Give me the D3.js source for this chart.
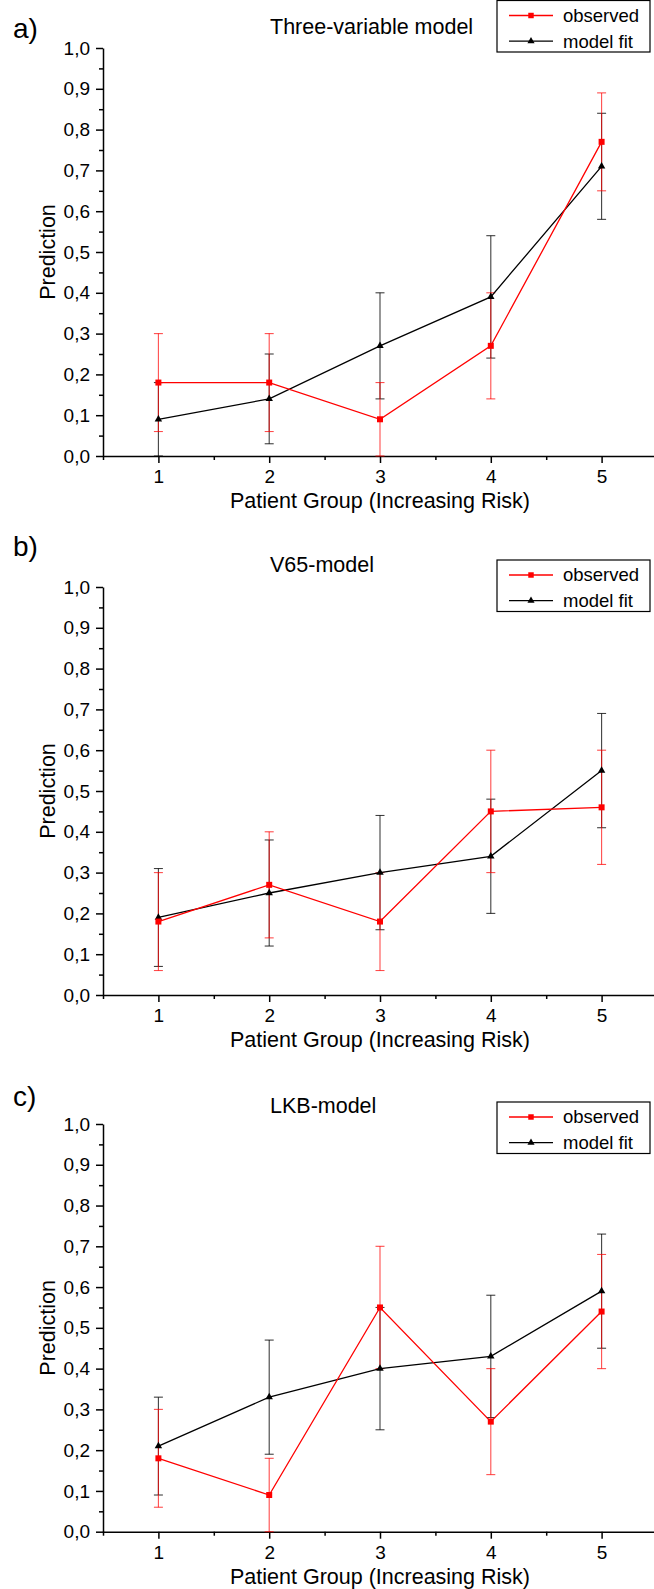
<!DOCTYPE html>
<html>
<head>
<meta charset="utf-8">
<script src="https://cdn.jsdelivr.net/npm/d3@7"></script>
<style>
body { margin: 0; background: #fff; }
svg { display: block; font-family: 'Liberation Sans', Arial, sans-serif; }
</style>
</head>
<body>
<svg id="chart"></svg>
<script>
// DATA
var groups = [1, 2, 3, 4, 5];
var yTicks = [0, 0.1, 0.2, 0.3, 0.4, 0.5, 0.6, 0.7, 0.8, 0.9, 1.0];
var yMinor = [0.05, 0.15, 0.25, 0.35, 0.45, 0.55, 0.65, 0.75, 0.85, 0.95];
var xMinor = [0.5, 1.5, 2.5, 3.5, 4.5, 5.5];
var seriesNames = ['observed', 'model fit'];
var panelLetters = ['a)', 'b)', 'c)'];
var panelTitles = ['Three-variable model', 'V65-model', 'LKB-model'];
var xTitle = 'Patient Group (Increasing Risk)';
var yTitle = 'Prediction';

// a) three-variable model
var obsA = [0.18, 0.18, 0.09, 0.27, 0.77];
var obsLowA = [0.06, 0.06, 0.00, 0.14, 0.65];
var obsHighA = [0.30, 0.30, 0.18, 0.40, 0.89];
var fitA = [0.09, 0.14, 0.27, 0.39, 0.71];
var fitLowA = [0.00, 0.03, 0.14, 0.24, 0.58];
var fitHighA = [0.18, 0.25, 0.40, 0.54, 0.84];

// b) V65 model
var obsB = [0.18, 0.27, 0.18, 0.45, 0.46];
var obsLowB = [0.06, 0.14, 0.06, 0.30, 0.32];
var obsHighB = [0.30, 0.40, 0.30, 0.60, 0.60];
var fitB = [0.19, 0.25, 0.30, 0.34, 0.55];
var fitLowB = [0.07, 0.12, 0.16, 0.20, 0.41];
var fitHighB = [0.31, 0.38, 0.44, 0.48, 0.69];

// c) LKB model
var obsC = [0.18, 0.09, 0.55, 0.27, 0.54];
var obsLowC = [0.06, 0.00, 0.40, 0.14, 0.40];
var obsHighC = [0.30, 0.18, 0.70, 0.40, 0.68];
var fitC = [0.21, 0.33, 0.40, 0.43, 0.59];
var fitLowC = [0.09, 0.19, 0.25, 0.28, 0.45];
var fitHighC = [0.33, 0.47, 0.55, 0.58, 0.73];

var panelData = [
    {obs: obsA, obsLow: obsLowA, obsHigh: obsHighA, fit: fitA, fitLow: fitLowA, fitHigh: fitHighA},
    {obs: obsB, obsLow: obsLowB, obsHigh: obsHighB, fit: fitB, fitLow: fitLowB, fitHigh: fitHighB},
    {obs: obsC, obsLow: obsLowC, obsHigh: obsHighC, fit: fitC, fitLow: fitLowC, fitHigh: fitHighC}
];

// LAYOUT
var svgWidth = 654,
    svgHeight = 1589;
var axisLeft = 103;
var panelTop = [48, 587, 1124];      // pixel of value 1.0
var panelBottom = [456, 995, 1531.7]; // pixel of value 0.0
var legendTop = [0.5, 560, 1102];
var titleY = [34, 571.5, 1113];
var letterY = [37.5, 556, 1106];
var obsColor = '#ff0000',
    fitColor = '#000000';

var svg = d3.select('#chart')
    .attr('width', svgWidth)
    .attr('height', svgHeight);

var x = d3.scaleLinear()
    .domain([0.5, 5.5])
    .range([axisLeft, axisLeft + 5 * 110.8]);

var commaFormat = function (d) {
    return d3.format('.1f')(d).replace('.', ',');
};

panelData.forEach(function (p, k) {
    var y = d3.scaleLinear()
        .domain([0, 1])
        .range([panelBottom[k], panelTop[k]]);

    var g = svg.append('g');

    // panel letter and title
    g.append('text')
        .attr('x', 13)
        .attr('y', letterY[k])
        .attr('font-size', 28)
        .text(panelLetters[k]);
    g.append('text')
        .attr('x', 270)
        .attr('y', titleY[k])
        .attr('font-size', 21.5)
        .text(panelTitles[k]);

    // y axis
    var yAxis = g.append('g')
        .attr('transform', 'translate(' + axisLeft + ',0)')
        .call(d3.axisLeft(y).tickValues(yTicks).tickFormat(commaFormat)
            .tickSize(7).tickSizeOuter(0).tickPadding(6));
    g.append('g')
        .attr('transform', 'translate(' + axisLeft + ',0)')
        .call(d3.axisLeft(y).tickValues(yMinor).tickFormat('')
            .tickSize(4).tickSizeOuter(0))
        .select('.domain').remove();

    // x axis
    var xAxis = g.append('g')
        .attr('transform', 'translate(0,' + panelBottom[k] + ')')
        .call(d3.axisBottom(x).tickValues(groups).tickFormat(d3.format('d'))
            .tickSize(7).tickSizeOuter(0).tickPadding(6.5));
    g.append('g')
        .attr('transform', 'translate(0,' + panelBottom[k] + ')')
        .call(d3.axisBottom(x).tickValues(xMinor).tickFormat('')
            .tickSize(4).tickSizeOuter(0))
        .select('.domain').remove();

    g.selectAll('.tick text')
        .attr('font-size', 19)
        .attr('font-family', "'Liberation Sans', Arial, sans-serif")
        .attr('fill', '#000');
    g.selectAll('.domain, .tick line')
        .attr('stroke', '#000')
        .attr('stroke-width', 1.5);

    // axis titles
    g.append('text')
        .attr('x', x(3))
        .attr('y', panelBottom[k] + 52)
        .attr('text-anchor', 'middle')
        .attr('font-size', 21.5)
        .text(xTitle);
    g.append('text')
        .attr('transform', 'translate(55,' + y(0.5) + ') rotate(-90)')
        .attr('text-anchor', 'middle')
        .attr('font-size', 21.5)
        .text(yTitle);

    var series = [
        {vals: p.fit, lo: p.fitLow, hi: p.fitHigh, color: fitColor, op: 0.75, shape: 'tri'},
        {vals: p.obs, lo: p.obsLow, hi: p.obsHigh, color: obsColor, op: 0.7, shape: 'sq'}
    ];

    // error bars
    series.forEach(function (s) {
        var eb = g.append('g')
            .attr('stroke', s.color)
            .attr('stroke-width', 1.1)
            .attr('stroke-opacity', s.op);
        eb.selectAll('line.bar')
            .data(groups)
            .enter()
            .append('line')
            .attr('class', 'bar')
            .attr('x1', function (d) { return x(d); })
            .attr('x2', function (d) { return x(d); })
            .attr('y1', function (d, i) { return y(s.lo[i]); })
            .attr('y2', function (d, i) { return y(s.hi[i]); });
        [s.lo, s.hi].forEach(function (arr) {
            eb.selectAll(null)
                .data(groups)
                .enter()
                .append('line')
                .attr('x1', function (d) { return x(d) - 4.5; })
                .attr('x2', function (d) { return x(d) + 4.5; })
                .attr('y1', function (d, i) { return y(arr[i]); })
                .attr('y2', function (d, i) { return y(arr[i]); });
        });
    });

    // lines
    series.forEach(function (s) {
        var line = d3.line()
            .x(function (d, i) { return x(groups[i]); })
            .y(function (d) { return y(d); });
        g.append('path')
            .datum(s.vals)
            .attr('fill', 'none')
            .attr('stroke', s.color)
            .attr('stroke-width', 1.3)
            .attr('d', line);
    });

    // markers
    series.forEach(function (s) {
        var sym = d3.symbol()
            .type(s.shape === 'sq' ? d3.symbolSquare : d3.symbolTriangle)
            .size(s.shape === 'sq' ? 36 : 24);
        g.selectAll(null)
            .data(s.vals)
            .enter()
            .append('path')
            .attr('d', sym)
            .attr('fill', s.color)
            .attr('transform', function (d, i) {
                return 'translate(' + x(groups[i]) + ',' + y(d) + ')';
            });
    });

    // legend
    var lg = g.append('g')
        .attr('transform', 'translate(497,' + legendTop[k] + ')');
    lg.append('rect')
        .attr('width', 153)
        .attr('height', 51.5)
        .attr('fill', '#fff')
        .attr('stroke', '#000')
        .attr('stroke-width', 1.2);
    [series[1], series[0]].forEach(function (s, i) {
        var rowY = 15 + i * 25.7;
        lg.append('line')
            .attr('x1', 12)
            .attr('x2', 56)
            .attr('y1', rowY)
            .attr('y2', rowY)
            .attr('stroke', s.color)
            .attr('stroke-width', 1.3);
        lg.append('path')
            .attr('d', d3.symbol()
                .type(s.shape === 'sq' ? d3.symbolSquare : d3.symbolTriangle)
                .size(s.shape === 'sq' ? 30 : 22))
            .attr('fill', s.color)
            .attr('transform', 'translate(34,' + rowY + ')');
        lg.append('text')
            .attr('x', 66)
            .attr('y', rowY)
            .attr('dy', '0.35em')
            .attr('font-size', 18.5)
            .text(seriesNames[i]);
    });
});
</script>
</body>
</html>
